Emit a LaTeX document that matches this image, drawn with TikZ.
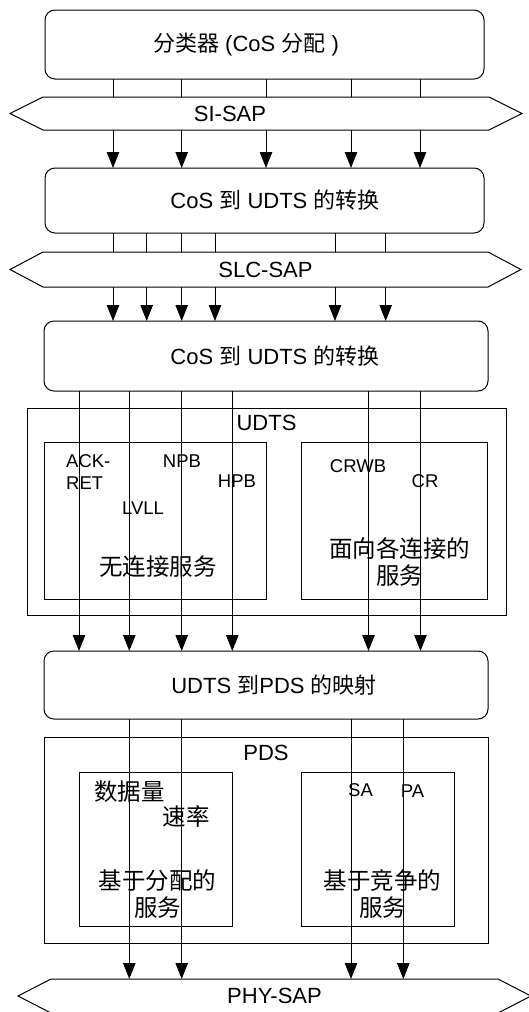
\documentclass[tikz,border=0pt]{standalone}
\usepackage{fontspec}
\setmainfont{Liberation Sans}
\newfontfamily\cjk{Noto Sans CJK SC}
\usetikzlibrary{arrows.meta, positioning}

\begin{document}
\begin{tikzpicture}[
    x=1pt, y=-1pt,
    layer/.style={rectangle, rounded corners=10pt, draw=black, line width=1pt, inner sep=0pt, outer sep=0pt, font=\fontsize{22}{26}\selectfont},
    sap/.style={rectangle, inner sep=0pt, outer sep=0pt, font=\fontsize{22}{26}\selectfont},
    group/.style={rectangle, draw=black, line width=1pt, inner sep=0pt, outer sep=0pt},
    title/.style={inner sep=0pt, font=\fontsize{22}{26}\selectfont},
    tag/.style={inner sep=0pt, align=left, font=\fontsize{18.5}{21.5}\selectfont},
    service/.style={inner sep=0pt, align=center, font=\cjk\fontsize{23.5}{27}\selectfont},
    link/.style={line width=1pt},
    arrow/.style={-{Triangle[length=16pt, width=12.5pt]}, line width=1pt}
]
\useasboundingbox (0,0) rectangle (529,1012);

\node[layer, minimum width=439pt, minimum height=69pt] (cls) at (264.5,44.5) {\raisebox{5pt}{{\cjk 分类器} (CoS {\cjk 分配} )}\hspace*{37pt}};
\node[sap, minimum width=446pt, minimum height=33pt] (si) at (266,113.5) {SI-SAP\hspace*{72pt}};
\node[layer, minimum width=439pt, minimum height=65pt] (conv1) at (264.5,200.5) {\hspace*{21pt}CoS {\cjk 到} UDTS {\cjk 的转换}};
\node[sap, minimum width=445pt, minimum height=35pt] (slc) at (265.5,269.5) {SLC-SAP};
\node[layer, minimum width=444pt, minimum height=70pt] (conv2) at (266,356) {\hspace*{18pt}CoS {\cjk 到} UDTS {\cjk 的转换}};

\node[group, minimum width=479pt, minimum height=207pt] (udts) at (266.5,511.5) {};
\node[title, below=7pt of udts.north] (udtst) {UDTS};
\node[group, minimum width=222pt, minimum height=157pt] (udtsl) at (155,520.5) {};
\node[group, minimum width=186pt, minimum height=157pt] (udtsr) at (394,520.5) {};
\node[tag, anchor=west] (ackret) at (66,472) {ACK-\\RET};
\node[tag] (npb) at (182,461) {NPB};
\node[tag] (hpb) at (237,481) {HPB};
\node[tag] (lvll) at (143,508.5) {LVLL};
\node[service] (cless) at (158,567) {无连接服务};
\node[tag] (crwb) at (358,466.5) {CRWB};
\node[tag] (cr) at (425,481) {CR};
\node[service] (conn) at (399.5,561.5) {面向各连接的\\服务};

\node[layer, minimum width=444pt, minimum height=68pt] (map) at (266,685) {\hspace*{16pt}UDTS {\cjk 到}PDS {\cjk 的映射}};

\node[group, minimum width=444pt, minimum height=206pt] (pds) at (266,840) {};
\node[title, below=8pt of pds.north] (pdst) {PDS};
\node[group, minimum width=153pt, minimum height=154pt] (pdsl) at (155.5,849) {};
\node[group, minimum width=153pt, minimum height=154pt] (pdsr) at (377.5,849) {};
\node[service] (vol) at (129.5,792) {数据量};
\node[service] (rate) at (186,816) {速率};
\node[service] (alloc) at (157.5,894) {基于分配的\\服务};
\node[tag] (sa) at (360.5,790) {SA};
\node[tag] (pa) at (412.5,791.5) {PA};
\node[service] (cont) at (382.5,894) {基于竞争的\\服务};

\node[sap, minimum width=447pt, minimum height=34pt] (phy) at (274.5,996) {PHY-SAP};

\foreach \s in {si,slc,phy}
    \draw[link] (\s.north west) -- (\s.north east) -- ([xshift=33pt]\s.east) -- (\s.south east) -- (\s.south west) -- ([xshift=-33pt]\s.west) -- cycle;

\foreach \x in {113,181.7,266,351,420} {
    \draw[link] (cls.south -| \x,0) -- (si.north -| \x,0);
    \draw[arrow] (si.south -| \x,0) -- (conv1.north -| \x,0);
}
\foreach \x in {113,146.7,181.7,215,335,385.7} {
    \draw[link] (conv1.south -| \x,0) -- (slc.north -| \x,0);
    \draw[arrow] (slc.south -| \x,0) -- (conv2.north -| \x,0);
}
\foreach \x in {79,129.3,181.7,232.3,368.5,420.5}
    \draw[arrow] (conv2.south -| \x,0) -- (map.north -| \x,0);
\foreach \x in {129.3,181.7,351,403.3}
    \draw[arrow] (map.south -| \x,0) -- (phy.north -| \x,0);

\end{tikzpicture}
\end{document}
